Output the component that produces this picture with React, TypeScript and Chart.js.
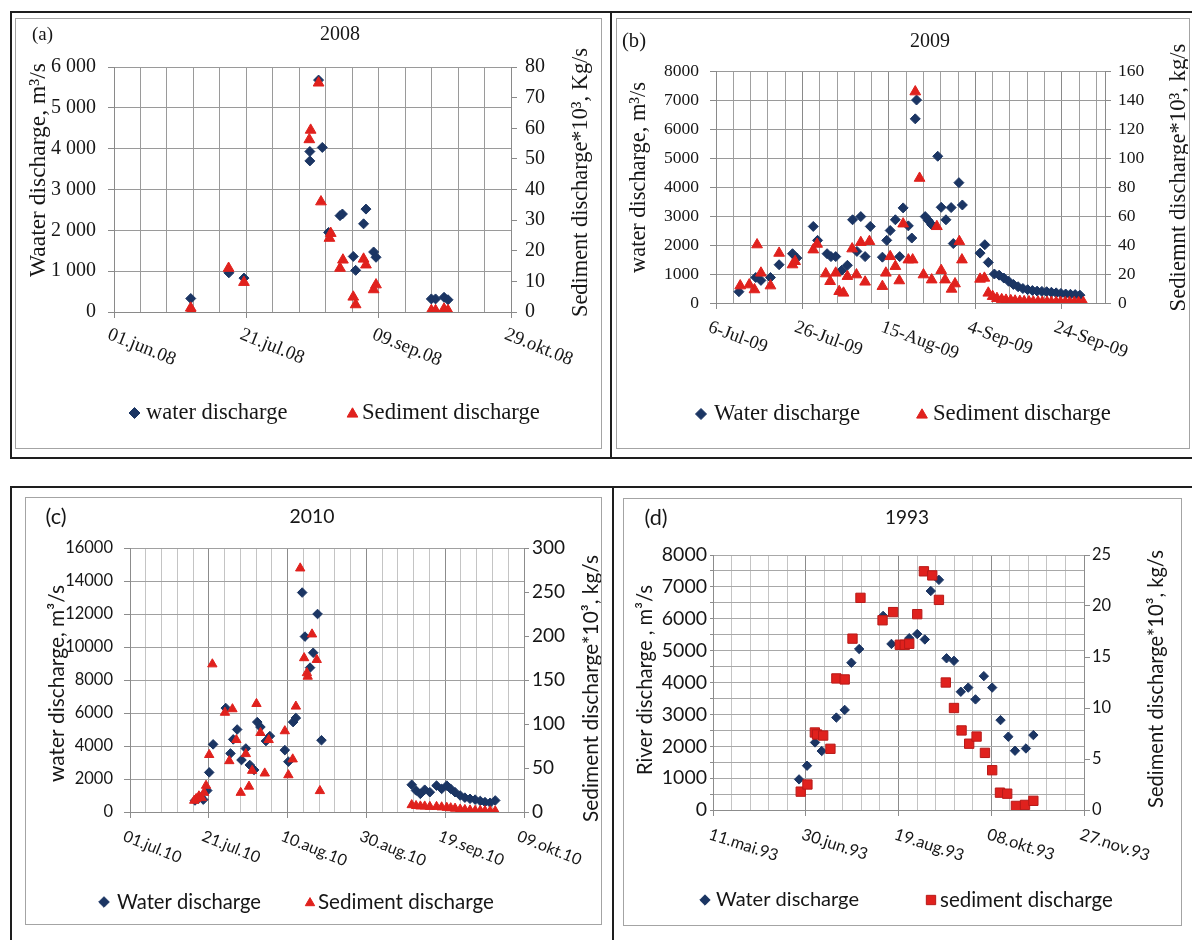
import { useEffect, useRef } from 'react';
import { Chart, registerables } from 'chart.js';

Chart.register(...registerables);

const SERIF = "'Liberation Serif', 'Times New Roman', serif";
const SANS = "Lato, 'Liberation Sans', Arial, sans-serif";

// ---------- (a) 2008, x = days since 01.jun.08 ----------
const A_X_LABELS = ['01.jun.08', '21.jul.08', '09.sep.08', '29.okt.08'];
const A_WATER_DAY = [29, 43.4, 49.1, 74, 74, 77.3, 78.7, 81.1, 85.4, 86.3, 90.4, 91.3, 94.3, 95.2, 98.1, 99, 119.9, 121.5, 124.7, 126.2];
const A_WATER = [330, 960, 830, 3930, 3700, 5680, 4030, 1950, 2360, 2400, 1360, 1020, 2160, 2520, 1470, 1340, 320, 320, 360, 300];
const A_SED_DAY = [29, 29.2, 43.3, 49.1, 73.8, 74.3, 77.3, 78.2, 81.4, 81.9, 85.4, 86.5, 90.4, 91.3, 94.3, 95.2, 98.1, 99, 119.9, 121.5, 124.7, 126.2];
const A_SED = [1.3, 0.5, 14.3, 9.7, 56.3, 59.4, 74.8, 36, 24.1, 25.7, 14.3, 17, 4.9, 2.4, 17.3, 15.4, 7.3, 8.9, 0.5, 0.5, 1, 0.5];

// ---------- (b) 2009, x = days since 6-Jul-09 ----------
const B_X_LABELS = ['6-Jul-09', '26-Jul-09', '15-Aug-09', '4-Sep-09', '24-Sep-09'];
const B_WATER_DAY = [5.3, 9.2, 10.4, 12.6, 14.6, 17.7, 18.7, 22.5, 23.5, 25.7, 26.6, 27.7, 29.1, 30.4, 31.6, 32.6, 33.5, 34.5, 35.7, 38.5, 39.5, 40.3, 41.5, 42.5, 43.3, 44.5, 45.3, 46.1, 46.4, 48.4, 49.1, 49.9, 51.3, 52.1, 53.2, 54.4, 54.9, 56.2, 57.0, 61.1, 62.2, 63.0, 64.4, 65.5, 66.6, 67.7, 68.8, 69.9, 71.0, 72.1, 73.2, 74.3, 75.4, 76.5, 77.6, 78.7, 79.8, 80.9, 82.0, 83.1, 84.2];
const B_WATER = [390, 880, 780, 880, 1320, 1700, 1550, 2640, 2160, 1700, 1600, 1600, 1130, 1300, 2870, 1780, 2980, 1600, 2640, 1580, 2160, 2500, 2870, 1600, 3280, 2660, 2240, 6350, 7000, 2980, 2850, 2700, 5060, 3300, 2870, 3290, 2050, 4150, 3380, 1720, 2010, 1400, 1000, 960, 860, 750, 640, 560, 500, 460, 430, 410, 400, 390, 370, 350, 330, 310, 300, 290, 270];
const B_SED_DAY = [5.6, 7.7, 8.9, 9.5, 10.4, 12.6, 14.6, 17.7, 18.3, 22.5, 23.4, 25.4, 26.4, 27.7, 28.5, 29.5, 30.4, 31.5, 32.5, 33.5, 34.5, 35.5, 38.5, 39.3, 40.3, 41.5, 42.4, 43.3, 44.5, 45.5, 46.1, 47.1, 48.0, 49.9, 51.1, 52.1, 53.0, 54.5, 55.3, 56.3, 56.9, 61.1, 62.1, 63.0, 64.0, 65.0, 66.1, 67.1, 68.2, 69.2, 70.3, 71.3, 72.4, 73.4, 74.5, 75.5, 76.6, 77.6, 78.7, 79.7, 80.8, 81.8, 82.9, 83.9, 85.0];
const B_SED = [11.9, 12.6, 9.2, 40.2, 20.7, 11.9, 34.4, 26.4, 28.7, 36.7, 40.6, 20.2, 14.9, 20.7, 8.0, 6.9, 18.4, 37.4, 19.5, 41.8, 14.5, 42.5, 11.5, 20.7, 32.1, 25.3, 15.4, 54.6, 29.8, 29.8, 145.7, 86.1, 19.5, 16, 52.8, 22.5, 16, 9.6, 13.3, 42.4, 29.8, 16.5, 17.2, 6.9, 4.6, 3.2, 2.4, 2.0, 1.7, 1.4, 1.2, 1.0, 0.9, 0.8, 0.7, 0.6, 0.6, 0.5, 0.5, 0.5, 0.4, 0.4, 0.4, 0.3, 0.3];

// ---------- (c) 2010, x = days since 01.jul.10 ----------
const C_X_LABELS = ['01.jul.10', '21.jul.10', '10.aug.10', '30.aug.10', '19.sep.10', '09.okt.10'];
const C_WATER_DAY = [16.5, 17.3, 18.0, 18.6, 19.6, 20.1, 21.1, 24.3, 25.5, 26.2, 27.2, 28.3, 29.4, 30.4, 31.5, 32.3, 33.1, 34.5, 35.5, 39.3, 40.2, 41.4, 42.1, 43.7, 44.4, 45.7, 46.5, 47.6, 48.6, 71.5, 72.6, 73.7, 74.8, 76.1, 77.8, 79.1, 80.4, 81.4, 82.5, 83.8, 85.0, 86.3, 87.6, 88.9, 90.1, 91.4, 92.7];
const C_WATER = [700, 800, 900, 750, 1300, 2400, 4100, 6300, 3550, 4400, 5000, 3150, 3850, 2850, 2550, 5450, 5150, 4300, 4600, 3750, 3050, 5450, 5700, 13300, 10630, 8750, 9650, 12000, 4350, 1650, 1300, 1100, 1350, 1200, 1600, 1400, 1600, 1400, 1200, 1000, 870, 800, 750, 670, 600, 560, 700];
const C_SED_DAY = [16.3, 16.8, 17.5, 18.2, 18.8, 19.3, 20.1, 20.9, 24.1, 25.2, 26.0, 27.0, 28.1, 29.4, 30.2, 31.0, 32.1, 33.1, 34.2, 35.2, 39.3, 40.2, 41.3, 42.1, 43.2, 44.2, 44.9, 45.1, 46.2, 47.4, 48.2, 71.5, 72.6, 73.7, 74.8, 76.1, 77.8, 79.1, 80.4, 81.4, 82.5, 83.8, 85.0, 86.3, 87.6, 88.9, 90.1, 91.4, 92.7];
const C_SED = [13, 15, 18, 16, 22, 30, 65, 168, 113, 58, 117, 82, 22, 66, 29, 47, 123, 90, 44, 82, 92, 42, 60, 120, 277, 175, 158, 154, 202, 173, 24, 8, 7, 6.5, 6.5, 6, 6, 5.5, 5, 4.5, 4, 3, 2.5, 2, 1.5, 1.5, 1.2, 1, 1];

// ---------- (d) 1993, x = days since 11.mai.93 ----------
const D_X_LABELS = ['11.mai.93', '30.jun.93', '19.aug.93', '08.okt.93', '27.nov.93'];
const D_WATER_DAY = [46.4, 50.7, 55.0, 58.6, 66.5, 71.0, 74.6, 78.8, 91.7, 96.2, 105.8, 110.1, 114.2, 117.4, 121.8, 125.9, 129.9, 133.6, 137.6, 141.5, 146.0, 150.5, 155.0, 159.2, 162.8, 168.7, 172.7];
const D_WATER = [960, 1390, 2120, 1850, 2900, 3140, 4620, 5050, 6090, 5210, 5390, 5520, 5350, 6870, 7220, 4760, 4680, 3710, 3840, 3470, 4200, 3840, 2820, 2300, 1860, 1930, 2350];
const D_SED_DAY = [47.3, 50.9, 54.9, 56.1, 59.4, 63.3, 66.5, 71.0, 75.2, 79.5, 91.4, 97.1, 100.7, 103.4, 105.8, 110.1, 113.7, 118.2, 121.8, 125.5, 129.9, 134.0, 138.1, 142.1, 146.6, 150.5, 154.7, 158.6, 163.3, 168.2, 172.7];
const D_SED = [1.8, 2.5, 7.6, 7.4, 7.3, 6.0, 12.9, 12.8, 16.8, 20.8, 18.6, 19.4, 16.2, 16.2, 16.3, 19.2, 23.4, 23.0, 20.6, 12.5, 10.0, 7.8, 6.5, 7.2, 5.6, 3.9, 1.7, 1.6, 0.4, 0.5, 0.9];

const NAVY = '#1b3563';
const RED = '#e0211d';
const RED_DARK = '#b81a18';

type Txt = { text: string; x: number; y: number; w: number };
type LegItem = { text: string; mx: number; tx: number; tw: number };

function pts(xs: number[], ys: number[]) {
  return xs.map((x, i) => ({ x, y: ys[i] }));
}
function steps(step: number, max: number) {
  const out: number[] = [];
  for (let v = 0; v <= max + 1e-9; v += step) out.push(v);
  return out;
}
const spaced = (v: number) => (v >= 1000 ? `${Math.floor(v / 1000)} ${String(v % 1000).padStart(3, '0')}` : String(v));

const PANELS: any[] = [
  {
    key: 'a', family: SERIF,
    canvas: { x: 16, y: 19, w: 585, h: 428 },
    plot: { l: 114, r: 511, t: 67, b: 312 },
    xMax: 150, xGrid: 10, xMajor: 50, xLabels: A_X_LABELS, xLabelSize: 19, xAngle: 22, xDx: -2, xDy: 13,
    yMax: 6000, yStep: 1000, yLabelEvery: 1000, yFmt: spaced, yFont: 20, yTick: 6, yPad: 12,
    y1Max: 80, y1Step: 10, y1Font: 20, y1Tick: 6, y1Pad: 8,
    grid: '#9a9a9a', gridMajor: '#9a9a9a', gridH: '#9a9a9a', axis: '#8a8a8a',
    water: pts(A_WATER_DAY, A_WATER), sed: pts(A_SED_DAY, A_SED),
    sedStyle: 'triangle', wR: 5, sR: 6.2,
    tag: { text: '(a)', x: 42.5, y: 35, w: 21 },
    title: { text: '2008', x: 340, y: 35, w: 40 },
    yTitle: { text: 'Waater discharge, m³/s', x: 39, y: 170, w: 214 },
    y1Title: { text: 'Sediment discharge*10³, Kg/s', x: 581, y: 182.5, w: 269 },
    legY: 413,
    legW: { text: 'water discharge', mx: 134.5, tx: 146, tw: 141.5 },
    legS: { text: 'Sediment discharge', mx: 352.5, tx: 362, tw: 178 },
  },
  {
    key: 'b', family: SERIF,
    canvas: { x: 617, y: 19, w: 571, h: 428 },
    plot: { l: 716, r: 1105, t: 71, b: 303 },
    xMax: 90, xGrid: 4, xMajor: 20, xLabels: B_X_LABELS, xLabelSize: 18.5, xAngle: 20, xDx: -4, xDy: 15,
    yMax: 8000, yStep: 1000, yLabelEvery: 1000, yFmt: (v: number) => String(v), yFont: 17.5, yTick: 6, yPad: 11,
    y1Max: 160, y1Step: 20, y1Font: 17.5, y1Tick: 6, y1Pad: 7,
    grid: '#a0a0a0', gridMajor: '#8a8a8a', gridH: '#9a9a9a', axis: '#8a8a8a',
    water: pts(B_WATER_DAY, B_WATER), sed: pts(B_SED_DAY, B_SED),
    sedStyle: 'triangle', wR: 5, sR: 6.2,
    tag: { text: '(b)', x: 634, y: 42, w: 24 },
    title: { text: '2009', x: 930, y: 42, w: 40 },
    yTitle: { text: 'water discharge, m³/s', x: 639.5, y: 177.5, w: 191 },
    y1Title: { text: 'Sediemnt discharge*10³, kg/s', x: 1179, y: 177.5, w: 268 },
    legY: 414,
    legW: { text: 'Water discharge', mx: 701, tx: 714, tw: 146 },
    legS: { text: 'Sediment discharge', mx: 922, tx: 933, tw: 178 },
  },
  {
    key: 'c', family: SANS,
    canvas: { x: 26, y: 498, w: 575, h: 425 },
    plot: { l: 130, r: 524, t: 548, b: 812 },
    xMax: 100, xGrid: 4, xMajor: 20, xLabels: C_X_LABELS, xLabelSize: 16, xAngle: 22, xDx: -3, xDy: 16,
    yMax: 16000, yStep: 2000, yLabelEvery: 2000, yFmt: (v: number) => String(v), yFont: 16.5, yTick: 6, yPad: 11,
    y1Max: 300, y1Step: 50, y1Font: 19, y1Tick: 5, y1Pad: 3,
    grid: '#c4c4c4', gridMajor: '#8c8c8c', gridH: '#a0a0a0', axis: '#8c8c8c',
    water: pts(C_WATER_DAY, C_WATER), sed: pts(C_SED_DAY, C_SED),
    sedStyle: 'triangle', wR: 4.8, sR: 5.4,
    tag: { text: '(c)', x: 56, y: 517, w: 21 },
    title: { text: '2010', x: 312, y: 517, w: 45 },
    yTitle: { text: 'water discharge, m³/s', x: 57, y: 683.5, w: 197 },
    y1Title: { text: 'Sediment discharge*10³, kg/s', x: 591, y: 688.5, w: 267 },
    legY: 902,
    legW: { text: 'Water discharge', mx: 104, tx: 117, tw: 144 },
    legS: { text: 'Sediment discharge', mx: 310, tx: 318, tw: 176 },
  },
  {
    key: 'd', family: SANS,
    canvas: { x: 624, y: 499, w: 557, h: 425 },
    plot: { l: 713, r: 1084, t: 555, b: 810 },
    xMax: 200, xGrid: 10, xMajor: 50, xLabels: D_X_LABELS, xLabelSize: 16.5, xAngle: 18, xDx: -1, xDy: 16,
    yMax: 8000, yStep: 500, yLabelEvery: 1000, yFmt: (v: number) => String(v), yFont: 19.5, yTick: 3, yPad: 3,
    y1Max: 25, y1Step: 5, y1Font: 16.5, y1Tick: 6, y1Pad: 2,
    grid: '#c4c4c4', gridMajor: '#8c8c8c', gridH: '#a8a8a8', axis: '#8c8c8c',
    water: pts(D_WATER_DAY, D_WATER), sed: pts(D_SED_DAY, D_SED),
    sedStyle: 'rect', wR: 4.7, sR: 6.6,
    tag: { text: '(d)', x: 656, y: 518, w: 23 },
    title: { text: '1993', x: 907, y: 518, w: 44 },
    yTitle: { text: 'River discharge , m³/s', x: 645, y: 680, w: 190 },
    y1Title: { text: 'Sediment discharge*10³, kg/s', x: 1156, y: 679, w: 258 },
    legY: 900,
    legW: { text: 'Water discharge', mx: 705, tx: 716, tw: 143 },
    legS: { text: 'sediment discharge', mx: 931, tx: 940, tw: 173 },
  },
];

function fitSize(ctx: CanvasRenderingContext2D, text: string, family: string, w: number) {
  ctx.font = `100px ${family}`;
  const m = ctx.measureText(text).width || 1;
  return (100 * w) / m;
}

function drawFit(ctx: CanvasRenderingContext2D, t: Txt, family: string, ox: number, oy: number, rot: number) {
  const size = fitSize(ctx, t.text, family, t.w);
  ctx.save();
  ctx.font = `${size}px ${family}`;
  ctx.translate(t.x - ox, t.y - oy);
  ctx.rotate(rot);
  ctx.textAlign = 'center';
  ctx.textBaseline = 'middle';
  ctx.fillText(t.text, 0, 0);
  ctx.restore();
}

function drawMarker(ctx: CanvasRenderingContext2D, style: string, x: number, y: number, r: number, fill: string, stroke: string) {
  ctx.beginPath();
  if (style === 'rectRot') {
    ctx.moveTo(x, y - r); ctx.lineTo(x + r, y); ctx.lineTo(x, y + r); ctx.lineTo(x - r, y);
  } else if (style === 'triangle') {
    const s = r * Math.sin(Math.PI / 3);
    ctx.moveTo(x, y - r); ctx.lineTo(x + s, y + r / 2); ctx.lineTo(x - s, y + r / 2);
  } else {
    const h = r * Math.SQRT1_2;
    ctx.rect(x - h, y - h, 2 * h, 2 * h);
  }
  ctx.closePath();
  ctx.fillStyle = fill; ctx.fill();
  ctx.strokeStyle = stroke; ctx.lineWidth = 1; ctx.stroke();
}

function makeDecor(cfg: any) {
  return {
    id: 'decor_' + cfg.key,
    afterDraw(chart: any) {
      const ctx: CanvasRenderingContext2D = chart.ctx;
      const ox = cfg.canvas.x, oy = cfg.canvas.y;
      ctx.save();
      ctx.fillStyle = '#161616';
      drawFit(ctx, cfg.tag, cfg.family, ox, oy, 0);
      drawFit(ctx, cfg.title, cfg.family, ox, oy, 0);
      drawFit(ctx, cfg.yTitle, cfg.family, ox, oy, -Math.PI / 2);
      drawFit(ctx, cfg.y1Title, cfg.family, ox, oy, -Math.PI / 2);
      // rotated date labels
      const xs = chart.scales.x;
      ctx.font = `${cfg.xLabelSize}px ${cfg.family}`;
      ctx.textAlign = 'left';
      ctx.textBaseline = 'top';
      cfg.xLabels.forEach((lab: string, i: number) => {
        const px = xs.getPixelForValue(i * cfg.xMajor);
        ctx.save();
        ctx.translate(px + cfg.xDx, chart.chartArea.bottom + cfg.xDy);
        ctx.rotate((cfg.xAngle * Math.PI) / 180);
        ctx.fillStyle = '#161616';
        ctx.fillText(lab, 0, 0);
        ctx.restore();
      });
      // legend
      const ly = cfg.legY - oy;
      drawMarker(ctx, 'rectRot', cfg.legW.mx - ox, ly, cfg.wR + 0.5, NAVY, NAVY);
      drawMarker(ctx, cfg.sedStyle, cfg.legS.mx - ox, ly + (cfg.sedStyle === 'triangle' ? 1 : 0), cfg.sR, RED, cfg.sedStyle === 'rect' ? RED_DARK : RED);
      [cfg.legW, cfg.legS].forEach((it: LegItem) => {
        const size = fitSize(ctx, it.text, cfg.family, it.tw);
        ctx.font = `${size}px ${cfg.family}`;
        ctx.fillStyle = '#161616';
        ctx.textAlign = 'left';
        ctx.textBaseline = 'middle';
        ctx.fillText(it.text, it.tx - ox, ly);
      });
      ctx.restore();
    },
  };
}

function fixedFit(horizontal: boolean, size: number) {
  return (s: any) => {
    if (horizontal) s.height = size; else s.width = size;
    s.paddingLeft = 0; s.paddingRight = 0; s.paddingTop = 0; s.paddingBottom = 0;
  };
}

function buildConfig(cfg: any): any {
  const { canvas, plot } = cfg;
  const leftSpace = plot.l - canvas.x;
  const rightSpace = canvas.x + canvas.w - plot.r;
  const isMajor = (v: number) => Math.abs(v / cfg.xMajor - Math.round(v / cfg.xMajor)) < 1e-6;
  return {
    type: 'scatter',
    data: {
      datasets: [
        {
          label: 'Water discharge', data: cfg.water, yAxisID: 'y', order: 2,
          pointStyle: 'rectRot', pointRadius: cfg.wR, pointHoverRadius: cfg.wR,
          backgroundColor: NAVY, borderColor: NAVY, borderWidth: 1,
        },
        {
          label: 'Sediment discharge', data: cfg.sed, yAxisID: 'y1', order: 1,
          pointStyle: cfg.sedStyle, pointRadius: cfg.sR, pointHoverRadius: cfg.sR,
          backgroundColor: RED, borderColor: cfg.sedStyle === 'rect' ? RED_DARK : RED, borderWidth: 1,
        },
      ],
    },
    options: {
      animation: false,
      responsive: false,
      maintainAspectRatio: false,
      devicePixelRatio: 1,
      events: [],
      layout: {
        padding: {
          left: 0,
          top: plot.t - canvas.y,
          right: 0,
          bottom: canvas.y + canvas.h - plot.b,
        },
      },
      plugins: { legend: { display: false }, tooltip: { enabled: false } },
      scales: {
        x: {
          type: 'linear', min: 0, max: cfg.xMax,
          afterBuildTicks: (s: any) => { s.ticks = steps(cfg.xGrid, cfg.xMax).map((v) => ({ value: v })); },
          ticks: { display: false, autoSkip: false },
          grid: {
            color: (c: any) => (c.tick && isMajor(c.tick.value) ? cfg.gridMajor : cfg.grid),
            lineWidth: 1,
            drawTicks: true,
            tickLength: 6,
            tickColor: (c: any) => (c.tick && isMajor(c.tick.value) ? cfg.axis : 'rgba(0,0,0,0)'),
          },
          border: { color: cfg.axis, width: 1 },
          afterFit: fixedFit(true, 0),
        },
        y: {
          type: 'linear', position: 'left', min: 0, max: cfg.yMax,
          ticks: {
            stepSize: cfg.yStep, autoSkip: false, color: '#161616', padding: cfg.yPad,
            font: { family: cfg.family, size: cfg.yFont },
            callback: (v: number) => (Math.round(v) % cfg.yLabelEvery === 0 ? cfg.yFmt(Math.round(v)) : ''),
          },
          grid: { color: cfg.gridH, lineWidth: 1, tickLength: cfg.yTick, tickColor: cfg.axis },
          border: { color: cfg.axis, width: 1 },
          afterFit: fixedFit(false, leftSpace),
        },
        y1: {
          type: 'linear', position: 'right', min: 0, max: cfg.y1Max,
          ticks: {
            stepSize: cfg.y1Step, autoSkip: false, color: '#161616', padding: cfg.y1Pad,
            font: { family: cfg.family, size: cfg.y1Font },
          },
          grid: { drawOnChartArea: false, tickLength: cfg.y1Tick, tickColor: cfg.axis },
          border: { color: cfg.axis, width: 1 },
          afterFit: fixedFit(false, rightSpace),
        },
      },
    },
    plugins: [makeDecor(cfg)],
  };
}

function Panel({ cfg }: { cfg: any }) {
  const ref = useRef<HTMLCanvasElement>(null);
  useEffect(() => {
    if (!ref.current) return;
    const chart = new Chart(ref.current, buildConfig(cfg));
    return () => chart.destroy();
  }, [cfg]);
  const { x, y, w, h } = cfg.canvas;
  return (
    <canvas
      ref={ref}
      width={w}
      height={h}
      style={{ position: 'absolute', left: x, top: y, width: w, height: h, display: 'block' }}
    />
  );
}

const line = (left: number, top: number, width: number, height: number, color: string) => (
  <div style={{ position: 'absolute', left, top, width, height, background: color }} />
);

const box = (left: number, top: number, width: number, height: number) => (
  <div style={{ position: 'absolute', left, top, width, height, border: '1px solid #a4a4a4', boxSizing: 'border-box' }} />
);

export default function App() {
  return (
    <div style={{ position: 'absolute', left: 0, top: 0, width: 1192, height: 940, background: '#ffffff', overflow: 'hidden' }}>
      {line(10, 11, 1182, 2, '#1e1e1e')}
      {line(10, 11, 2, 448, '#1e1e1e')}
      {line(10, 457, 1182, 2, '#1e1e1e')}
      {line(610, 11, 2, 448, '#1e1e1e')}
      {line(10, 486, 1182, 2, '#1e1e1e')}
      {line(10, 486, 2, 454, '#1e1e1e')}
      {line(612, 486, 2, 454, '#1e1e1e')}
      {box(15, 18, 587, 431)}
      {box(616, 18, 574, 431)}
      {box(25, 497, 577, 428)}
      {box(623, 498, 559, 428)}
      {PANELS.map((p) => (
        <Panel key={p.key} cfg={p} />
      ))}
    </div>
  );
}
